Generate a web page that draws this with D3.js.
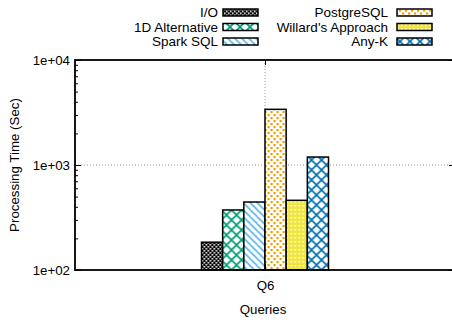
<!doctype html>
<html lang="en">
<head>
  <meta charset="utf-8">
  <title>Processing Time Q6</title>
  <script src="https://d3js.org/d3.v7.min.js"></script>
  <style>
    body { margin: 0; background: #fff; }
    svg { display: block; font-family: "Liberation Sans", Arial, sans-serif; }
    .axis text { font-size: 13.3px; fill: #000; }
    .axis line { stroke: #000; stroke-width: 1; }
    .axis path { display: none; }
    .grid { stroke: #999; stroke-width: 1; stroke-dasharray: 1,2; }
    .legend text { font-size: 13.5px; }
  </style>
</head>
<body>
  <div id="chart"></div>
  <script>
    // data
    const queries = ['Q6'];
    const methods = ['I/O', '1D Alternative', 'Spark SQL', 'PostgreSQL', "Willard's Approach", 'Any-K'];
    const times = [184, 373, 444, 3390, 461, 1191];
    const yTicks = [1e2, 1e3, 1e4];

    const width = 452, height = 320;
    const margin = { top: 60, right: -3, bottom: 50, left: 75 };

    const svg = d3.select('#chart').append('svg')
      .attr('width', width)
      .attr('height', height);

    // fill patterns, one per method
    const defs = svg.append('defs');

    function addPattern(id, size, draw) {
      const p = defs.append('pattern')
        .attr('id', id)
        .attr('patternUnits', 'userSpaceOnUse')
        .attr('width', size)
        .attr('height', size);
      draw(p);
    }

    // I/O: black with white specks
    addPattern('p0', 4, p => {
      p.append('rect').attr('width', 4).attr('height', 4).attr('fill', '#000');
      p.append('rect').attr('x', 0).attr('y', 0).attr('width', 1.6).attr('height', 1.6).attr('fill', '#fff');
      p.append('rect').attr('x', 2).attr('y', 2).attr('width', 1.6).attr('height', 1.6).attr('fill', '#fff');
    });

    // crosshatch helper
    function cross(color, s, w) {
      return p => {
        p.append('rect').attr('width', s).attr('height', s).attr('fill', '#fff');
        p.append('path')
          .attr('d', `M0,0L${s},${s}M${s},0L0,${s}M${-s/2},${s/2}L0,${s}M${s/2},${-s/2}L${s*1.5},${s/2}`)
          .attr('stroke', color).attr('stroke-width', w).attr('fill', 'none');
      };
    }
    addPattern('p1', 10, cross('#009e73', 10, 1.7));

    // Spark SQL: back-slash lines
    addPattern('p2', 7, p => {
      p.append('rect').attr('width', 7).attr('height', 7).attr('fill', '#fff');
      p.append('path')
        .attr('d', 'M0,0L7,7M-3.5,3.5L0,7M3.5,-3.5L10.5,3.5M-7,0L0,7M7,0L14,7')
        .attr('stroke', '#56b4e9').attr('stroke-width', 1.6);
    });

    // PostgreSQL: orange squares in a diamond lattice
    addPattern('p3', 6, p => {
      p.append('rect').attr('width', 6).attr('height', 6).attr('fill', '#fff');
      p.append('rect').attr('x', 0).attr('y', 0).attr('width', 2.2).attr('height', 2.2).attr('fill', '#e69f00');
      p.append('rect').attr('x', 3).attr('y', 3).attr('width', 2.2).attr('height', 2.2).attr('fill', '#e69f00');
    });

    // Willard: yellow with white dots
    addPattern('p4', 4, p => {
      p.append('rect').attr('width', 4).attr('height', 4).attr('fill', '#f0e442');
      p.append('rect').attr('x', 1).attr('y', 1).attr('width', 1.5).attr('height', 1.5).attr('fill', '#fff');
    });

    addPattern('p5', 10, cross('#0072b2', 10, 1.7));

    // scales
    const x0 = d3.scaleBand()
      .domain(queries)
      .range([margin.left, width - margin.right]);

    const groupW = 127;
    const x1 = d3.scaleBand()
      .domain(methods)
      .range([0, groupW]);

    const y = d3.scaleLog()
      .domain([1e2, 1e4])
      .range([height - margin.bottom, margin.top]);

    const plotLeft = margin.left, plotRight = width - margin.right;
    const plotTop = margin.top, plotBottom = height - margin.bottom;
    const fmt = d => d3.format('.0e')(d).replace(/e\+(\d)$/, 'e+0$1');

    // grid
    svg.append('g').selectAll('line')
      .data([1e3])
      .join('line')
      .attr('class', 'grid')
      .attr('x1', plotLeft).attr('x2', plotRight)
      .attr('y1', d => y(d)).attr('y2', d => y(d));

    svg.append('line')
      .attr('class', 'grid')
      .attr('x1', x0('Q6') + x0.bandwidth() / 2)
      .attr('x2', x0('Q6') + x0.bandwidth() / 2)
      .attr('y1', plotTop).attr('y2', plotBottom);

    // bars
    const groups = svg.append('g')
      .selectAll('g')
      .data(queries)
      .join('g')
      .attr('transform', q => `translate(${x0(q) + x0.bandwidth() / 2 - groupW / 2},0)`);

    groups.selectAll('rect')
      .data(methods.map((m, i) => ({ m, i, v: times[i] })))
      .join('rect')
      .attr('x', d => x1(d.m))
      .attr('y', d => y(d.v))
      .attr('width', x1.bandwidth())
      .attr('height', d => plotBottom - y(d.v))
      .attr('fill', d => `url(#p${d.i})`)
      .attr('stroke', '#000')
      .attr('stroke-width', 1.5);

    // y axis, ticks pointing inward
    const minor = [];
    [100, 1000].forEach(b => { for (let k = 2; k <= 9; k++) minor.push(b * k); });

    svg.append('g').attr('class', 'axis')
      .attr('transform', `translate(${plotLeft},0)`)
      .call(d3.axisLeft(y).tickValues(yTicks).tickFormat(fmt).tickSizeInner(-6).tickPadding(5));
    svg.append('g').attr('class', 'axis')
      .attr('transform', `translate(${plotLeft},0)`)
      .call(d3.axisLeft(y).tickValues(minor).tickFormat('').tickSizeInner(-3));
    svg.append('g').attr('class', 'axis')
      .attr('transform', `translate(${plotRight},0)`)
      .call(d3.axisRight(y).tickValues(yTicks).tickFormat('').tickSizeInner(-6));
    svg.append('g').attr('class', 'axis')
      .attr('transform', `translate(${plotRight},0)`)
      .call(d3.axisRight(y).tickValues(minor).tickFormat('').tickSizeInner(-3));

    // x axis
    const xc = d3.scalePoint().domain(queries).range([plotLeft, plotRight]).padding(0.5);
    svg.append('g').attr('class', 'axis')
      .attr('transform', `translate(0,${plotBottom})`)
      .call(d3.axisBottom(xc).tickSizeInner(-6).tickPadding(11));
    svg.append('g').attr('class', 'axis')
      .attr('transform', `translate(0,${plotTop})`)
      .call(d3.axisTop(xc).tickFormat('').tickSizeInner(-5));

    // frame
    svg.append('rect')
      .attr('x', plotLeft).attr('y', plotTop)
      .attr('width', plotRight - plotLeft).attr('height', plotBottom - plotTop)
      .attr('fill', 'none').attr('stroke', '#000').attr('stroke-width', 1.8);

    // axis titles
    svg.append('text')
      .attr('x', (plotLeft + plotRight) / 2 - 2)
      .attr('y', 314)
      .attr('text-anchor', 'middle')
      .style('font-size', '13.3px')
      .text('Queries');

    svg.append('text')
      .attr('transform', `translate(19,${(plotTop + plotBottom) / 2}) rotate(-90)`)
      .attr('text-anchor', 'middle')
      .style('font-size', '13.3px')
      .text('Processing Time (Sec)');

    // legend, two columns
    const cols = [{ tx: 218, bx: 223 }, { tx: 388, bx: 397 }];
    const rowY = [12.5, 27, 41.5];
    const legend = svg.append('g').attr('class', 'legend')
      .selectAll('g')
      .data(methods.map((m, i) => ({ m, i })))
      .join('g')
      .attr('transform', d => `translate(0,${rowY[d.i % 3]})`);

    legend.append('text')
      .attr('x', d => cols[Math.floor(d.i / 3)].tx)
      .attr('dy', '0.35em')
      .attr('text-anchor', 'end')
      .text(d => d.m);

    legend.append('rect')
      .attr('x', d => cols[Math.floor(d.i / 3)].bx)
      .attr('y', -3.5)
      .attr('width', 35)
      .attr('height', 7)
      .attr('fill', d => `url(#p${d.i})`)
      .attr('stroke', '#000')
      .attr('stroke-width', 1.5);
  </script>
</body>
</html>
